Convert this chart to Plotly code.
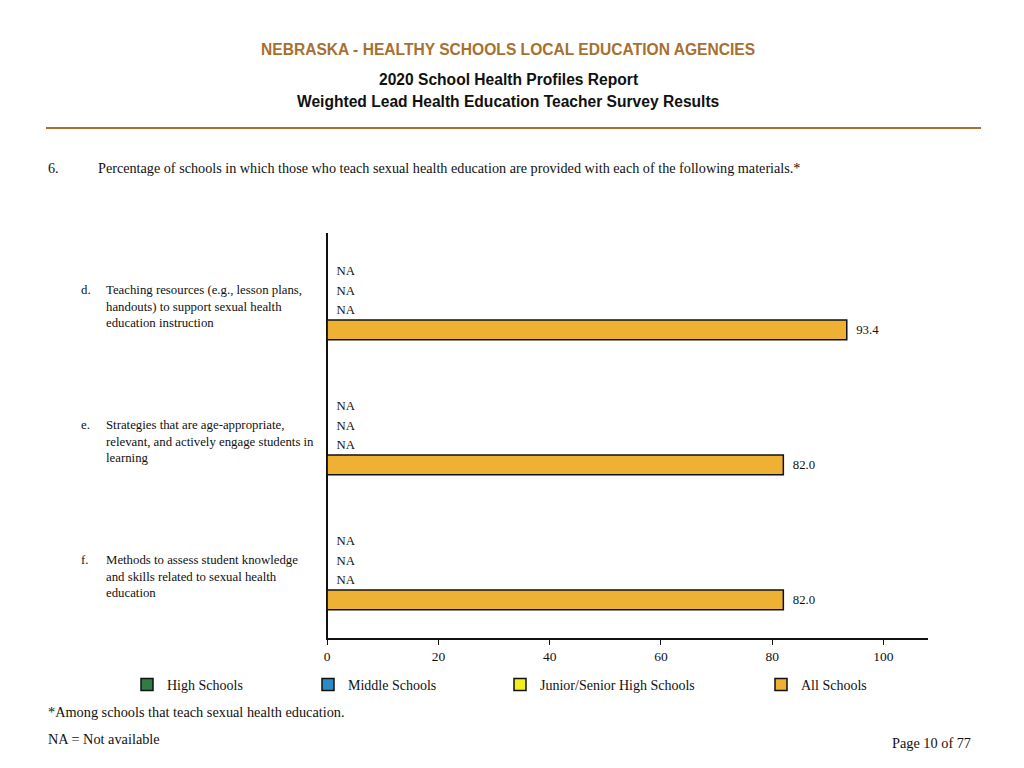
import plotly.graph_objects as go

# ---- data ----
categories = ["d", "e", "f"]
category_labels = [
    "Teaching resources (e.g., lesson plans,<br>handouts) to support sexual health<br>education instruction",
    "Strategies that are age-appropriate,<br>relevant, and actively engage students in<br>learning",
    "Methods to assess student knowledge<br>and skills related to sexual health<br>education",
]
series_names = ["High Schools", "Middle Schools", "Junior/Senior High Schools", "All Schools"]
high_schools = [None, None, None]
middle_schools = [None, None, None]
junior_senior = [None, None, None]
all_schools = [93.4, 82.0, 82.0]
x_ticks = [0, 20, 40, 60, 80, 100]

colors = ["#2f7d45", "#2b8cc4", "#f2ef1a", "#efb133"]
W, H = 1024, 768
L, R, T, B = 326, 96, 233, 130
PW, PH = W - L - R, H - T - B
SERIF = "Liberation Serif"
SANS = "Liberation Sans"
PAD = "\u00a0\u00a0"


def px_x(x):
    return (x - L) / PW


def px_y(y):
    return (H - B - y) / PH


fig = go.Figure()
legend_px = [127, 308, 500, 761]
for k, (name, vals) in enumerate(zip(series_names,
                                     [high_schools, middle_schools, junior_senior, all_schools])):
    xs = [0 if v is None else v for v in vals]
    txt = [PAD + ("NA" if v is None else f"{v:.1f}") for v in vals]
    fig.add_trace(go.Bar(
        y=categories, x=xs, name=name, orientation="h",
        marker=dict(color=colors[k], line=dict(color="#111", width=1.5)),
        text=txt, textposition="outside", cliponaxis=False,
        textfont=dict(family=SERIF, size=12.8, color="#111"),
        legend="legend" if k == 0 else f"legend{k + 1}",
        showlegend=True,
        hoverinfo="skip",
    ))

legends = {}
for k, lx in enumerate(legend_px):
    key = "legend" if k == 0 else f"legend{k + 1}"
    legends[key] = dict(
        x=px_x(lx), y=px_y(685), xanchor="left", yanchor="middle",
        orientation="h", font=dict(family=SERIF, size=14, color="#111"),
        bgcolor="rgba(0,0,0,0)", itemwidth=30, visible=True,
    )

annotations = [
    dict(text="<b>NEBRASKA - HEALTHY SCHOOLS LOCAL EDUCATION AGENCIES</b>", x=px_x(508), y=px_y(50),
         font=dict(family=SANS, size=15.6, color="#a8702f")),
    dict(text="<b>2020 School Health Profiles Report</b>", x=px_x(508), y=px_y(79),
         font=dict(family=SANS, size=15.6, color="#111")),
    dict(text="<b>Weighted Lead Health Education Teacher Survey Results</b>", x=px_x(508), y=px_y(101),
         font=dict(family=SANS, size=15.6, color="#111")),
    dict(text="6.", x=px_x(46), y=px_y(168), xanchor="left",
         font=dict(family=SERIF, size=14.2, color="#111")),
    dict(text="Percentage of schools in which those who teach sexual health education are provided with each of the following materials.*",
         x=px_x(96), y=px_y(168), xanchor="left", font=dict(family=SERIF, size=14.2, color="#111")),
    dict(text="*Among schools that teach sexual health education.", x=px_x(46), y=px_y(712), xanchor="left",
         font=dict(family=SERIF, size=14.3, color="#111")),
    dict(text="NA = Not available", x=px_x(46), y=px_y(739), xanchor="left",
         font=dict(family=SERIF, size=14.3, color="#111")),
    dict(text="Page 10 of 77", x=px_x(973), y=px_y(743), xanchor="right",
         font=dict(family=SERIF, size=14.3, color="#111")),
]
for a in annotations:
    a.update(xref="paper", yref="paper", showarrow=False, yanchor="middle")
    a.setdefault("xanchor", "center")

for cat, label in zip(categories, category_labels):
    annotations.append(dict(text=cat + ".", x=px_x(79), y=cat, xref="paper", yref="y",
                            xanchor="left", yanchor="top", yshift=20, showarrow=False,
                            align="left", font=dict(family=SERIF, size=12.8, color="#111")))
    annotations.append(dict(text=label, x=px_x(104), y=cat, xref="paper", yref="y",
                            xanchor="left", yanchor="top", yshift=20, showarrow=False,
                            align="left", font=dict(family=SERIF, size=12.8, color="#111")))

fig.update_layout(
    width=W, height=H,
    margin=dict(l=L, r=R, t=T, b=B),
    paper_bgcolor="white", plot_bgcolor="white",
    barmode="group", bargap=0.42, bargroupgap=0,
    showlegend=True,
    annotations=annotations,
    shapes=[dict(type="line", xref="paper", yref="paper",
                 x0=px_x(46), x1=px_x(981), y0=px_y(128), y1=px_y(128),
                 line=dict(color="#a8702f", width=2))],
    **legends,
)
# zero line stands in for the y axis line so the empty (NA) bars sit right on it
fig.update_xaxes(range=[-0.2, 108], tickvals=x_ticks, showgrid=False,
                 zeroline=True, zerolinecolor="#111", zerolinewidth=1.5,
                 showline=True, linecolor="#111", linewidth=1.5,
                 ticks="outside", ticklen=5, tickcolor="#111",
                 tickfont=dict(family=SERIF, size=13.5, color="#111"))
fig.update_yaxes(autorange="reversed", showticklabels=False, showgrid=False,
                 showline=False, ticks="")

fig.write_html("out.html", config={"displayModeBar": False},
               post_script="document.body.style.margin='0';")
